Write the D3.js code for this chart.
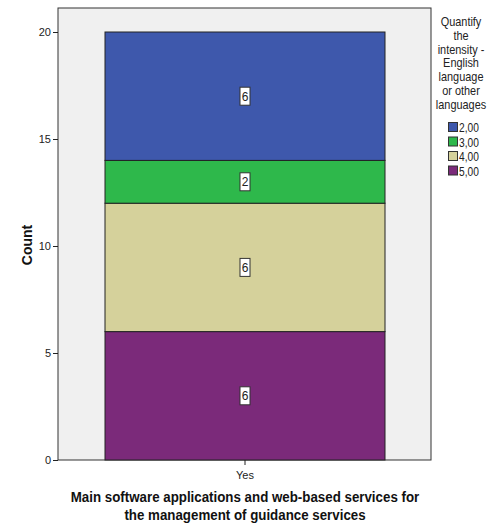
<!DOCTYPE html>
<html><head><meta charset="utf-8">
<script src="https://cdn.jsdelivr.net/npm/d3@7"></script>
<style>body{margin:0;background:#fff}svg{display:block}text{font-family:"Liberation Sans",Arial,sans-serif}</style>
</head><body><svg id="c" width="491" height="528"></svg>
<script>
const categories = ["Yes"];
const seriesNames = ["2,00","3,00","4,00","5,00"];
const seriesValues = [6,2,6,6]; // counts for "Yes"
const colors = ["#3e58ac","#2eb84b","#d5d19b","#7b2a7a"];
const yTicks = [0,5,10,15,20];
const legendTitle = ["Quantify","the","intensity -","English","language","or other","languages"];
const xTitle = ["Main software applications and web-based services for","the management of guidance services"];

const svg = d3.select("#c");
const L=58,R=431,T=8,B=460;
const y = d3.scaleLinear().domain([0,20]).range([B,32]);
const xb = d3.scaleBand().domain(categories).range([105,385]);

svg.append("rect").attr("x",L).attr("y",T).attr("width",R-L).attr("height",B-T).attr("fill","#f0f0f0").attr("stroke","#333").attr("stroke-width",1);

// stack: 5,00 at bottom
const order=[3,2,1,0];
let cum=0;
const segs=[];
order.forEach(i=>{segs.push({i,y0:cum,y1:cum+seriesValues[i]});cum+=seriesValues[i];});
const g=svg.append("g");
segs.forEach(s=>{
  g.append("rect").attr("x",xb("Yes")).attr("width",xb.bandwidth())
   .attr("y",y(s.y1)).attr("height",y(s.y0)-y(s.y1))
   .attr("fill",colors[s.i]).attr("stroke","#222").attr("stroke-width",1);
});
segs.forEach(s=>{
  const cx=xb("Yes")+xb.bandwidth()/2, cy=(y(s.y0)+y(s.y1))/2;
  g.append("rect").attr("x",cx-5).attr("y",cy-9).attr("width",10).attr("height",18).attr("fill","#fff").attr("stroke","#333").attr("stroke-width",1);
  g.append("text").attr("x",cx).attr("y",cy+4.5).attr("text-anchor","middle").attr("font-size",12).attr("fill","#222").text(seriesValues[s.i]);
});

// y axis
const ya=svg.append("g").attr("transform",`translate(${L},0)`).call(d3.axisLeft(y).tickValues(yTicks).tickSize(5).tickPadding(2));
ya.select(".domain").remove();
ya.selectAll("line").attr("stroke","#222");
ya.selectAll("text").attr("font-size",11).attr("fill","#222");
// x axis
const xa=svg.append("g").attr("transform",`translate(0,${B})`).call(d3.axisBottom(xb).tickSize(5).tickPadding(6));
xa.select(".domain").remove();
xa.selectAll("line").attr("stroke","#222");
xa.selectAll("text").attr("font-size",11).attr("fill","#222");

svg.append("text").attr("transform","translate(32,245) rotate(-90)").attr("text-anchor","middle")
  .attr("font-size",14).attr("font-weight","bold").attr("fill","#111").text("Count");

xTitle.forEach((t,k)=>{
  svg.append("text").attr("transform",`translate(245,${502+k*18}) scale(0.86,1)`).attr("text-anchor","middle").attr("font-size",15.5).attr("font-weight","bold").attr("fill","#111").text(t);
});

legendTitle.forEach((t,k)=>{
  svg.append("text").attr("transform",`translate(461,${26+k*13.8}) scale(0.84,1)`).attr("text-anchor","middle").attr("font-size",13).attr("fill","#222").text(t);
});
seriesNames.forEach((n,k)=>{
  const yy=122+k*14.5;
  svg.append("rect").attr("x",448.5).attr("y",yy+0.5).attr("width",9).attr("height",9).attr("fill",colors[k]).attr("stroke","#333").attr("stroke-width",1);
  svg.append("text").attr("transform",`translate(459,${yy+10}) scale(0.85,1)`).attr("font-size",12).attr("fill","#222").text(n);
});
</script></body></html>
